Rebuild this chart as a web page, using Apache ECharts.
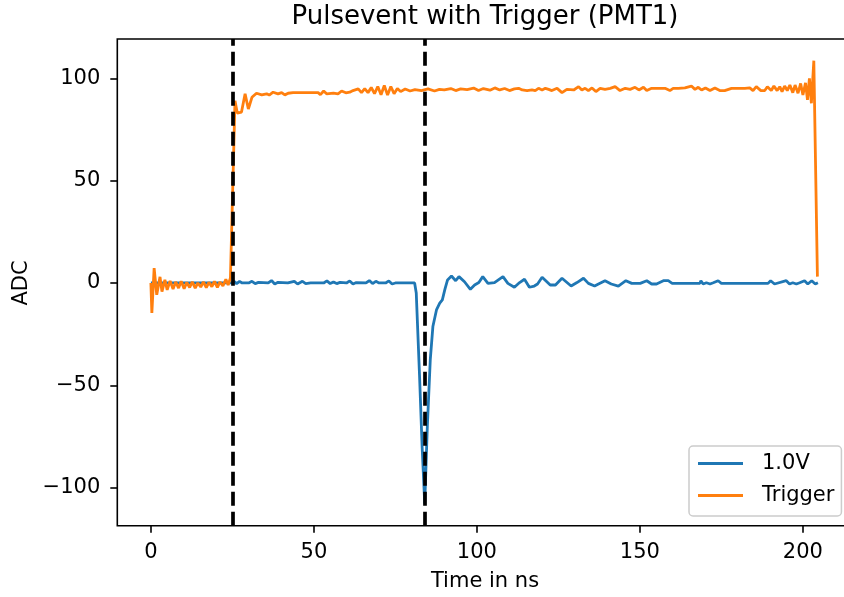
<!DOCTYPE html>
<html><head><meta charset="utf-8">
<script src="https://cdn.jsdelivr.net/npm/echarts@6/dist/echarts.min.js"></script>
<style>html,body{margin:0;padding:0;background:#fff}#c{width:844px;height:597px}</style>
</head><body><div id="c"></div>
<script>
// ---- data ----
const titleText = 'Pulsevent with Trigger (PMT1)';
const xName = 'Time in ns';
const yName = 'ADC';
const xTicks = [0, 50, 100, 150, 200];
const yTicks = [-100, -50, 0, 50, 100];
const triggerLines = [25.2, 84.0];

const pmtName = '1.0V';
const pmtT = [0,24.8,25.5,26.3,27.2,28.0,30.0,31.0,32.0,33.0,36.0,37.0,38.0,39.0,42.0,44.0,45.0,46.5,47.5,49.0,53.0,54.0,55.0,56.0,57.0,58.0,60.0,61.0,62.0,63.0,66.0,67.0,68.0,69.0,70.0,72.0,73.0,74.0,75.0,80.9,81.4,82.4,83.2,84.0,84.8,85.7,86.5,87.6,88.6,89.4,90.2,91.0,92.2,93.5,94.5,96.2,98.0,99.3,100.6,101.8,103.4,105.4,108.0,109.5,111.5,113.1,114.6,116.1,117.6,118.6,120.0,122.5,124.1,126.1,128.9,130.7,132.7,134.2,136.1,137.3,139.3,141.2,143.4,145.7,147.5,150.1,152.1,153.6,155.1,157.2,158.7,159.9,168.4,168.7,169.4,170.4,171.5,172.5,174.0,175.0,189.3,190.1,191.3,194.9,195.9,196.9,198.0,199.0,200.5,201.5,202.7,203.8,204.6];
const pmtV = [0,0,0.8,-0.3,0.8,0,0,0.8,-0.3,0.3,0,1.2,-0.5,0.3,0,0.8,-0.5,0.8,-0.3,0,0,1.0,-0.3,0.5,-0.3,0.3,0,1.0,-0.5,0.2,0,1.2,-0.3,0.8,0,0,1.0,-0.5,0,0,-4.9,-45,-80,-107.8,-70,-37.5,-21.3,-13.2,-9.9,-8.3,-3.0,1.5,3.4,1.1,3.1,0.6,-3.1,-1.0,0.2,3.1,-0.2,0.2,3.1,-0.2,-2.1,0.2,1.8,-2.1,-1.5,-0.5,2.8,-1.0,-1.0,2.3,-1.5,0.2,2.3,-0.2,-1.5,-0.5,1.1,-0.5,-1.5,1.1,-0.2,-0.2,1.1,-0.5,-0.5,1.1,1.1,-0.2,-0.2,1.1,-0.5,0.1,-0.5,0.1,1.1,-0.2,-0.2,1.1,-0.5,1.1,-0.5,0.1,-0.5,0.1,1.1,-0.5,1.1,-0.5,0.1];

const trigName = 'Trigger';
const trigT = [0,0.3,1.0,1.8,2.8,3.4,4.3,5.0,5.9,6.8,7.6,8.5,9.3,10.2,11.0,11.9,12.7,13.6,14.4,15.3,16.1,17.0,17.8,18.7,19.5,20.4,21.2,22.1,23.0,23.7,24.4,25.8,26.5,27.8,28.9,29.9,31.0,32.4,34.0,35.5,36.3,37.5,39.0,40.1,41.1,42.1,43.6,51.3,52.0,53.0,53.9,56.0,57.4,58.5,59.8,61.0,62.0,63.6,64.6,65.6,66.6,67.6,68.6,69.6,70.6,71.6,72.6,73.6,74.6,75.6,76.6,78.0,79.5,81.0,83.0,85.0,87.0,88.5,90.0,92.0,93.5,95.0,97.0,99.0,100.5,102.0,104.0,105.5,107.0,108.5,110.0,111.5,112.8,113.9,115.4,116.9,117.9,118.9,120.0,121.0,122.0,123.0,124.6,126.1,127.6,129.7,131.2,132.2,133.2,134.2,135.3,136.5,137.8,139.3,140.9,142.4,143.9,145.5,147.0,148.5,149.7,151.1,152.1,153.6,155.7,157.7,159.2,160.2,161.8,163.8,165.8,166.9,167.9,168.9,170.1,171.5,173.0,174.5,176.0,178.1,180.1,182.2,183.7,184.7,185.7,187.1,188.3,189.1,190.3,191.1,192.1,192.9,193.6,194.4,195.2,196.0,196.9,197.6,198.5,199.3,200.0,200.8,201.4,202.0,202.6,203.35,204.45];
const trigV = [0,-14.6,7.3,-5.8,3.0,-4.2,1.5,-3.4,1.0,-3.0,0.5,-2.5,0.8,-2.8,0.3,-2.2,0.5,-2.5,0.0,-2.0,0.5,-2.3,0.3,-1.8,0.8,-2.2,0.5,-1.5,1.8,-1.0,2.5,89,83,83.5,92.4,85,90.7,92.7,91.9,92.4,91.8,93.2,92.4,93.0,91.9,92.7,93.0,93.0,92.0,93.8,92.4,92.8,92.4,93.8,92.9,93.2,94.0,94.8,93.0,95.0,93.0,95.5,92.5,96.0,92.0,96.5,91.8,96.0,92.5,95.0,93.5,94.8,93.8,94.5,94.0,94.8,93.8,94.6,94.3,95.0,94.0,94.8,94.5,95.2,94.0,95.0,94.2,95.3,94.3,95.0,94.0,94.8,95.1,94.3,94.0,94.3,94.0,95.1,94.3,95.1,94.6,94.0,95.1,93.0,94.6,94.3,95.9,94.3,95.1,94.0,95.3,93.5,95.1,94.6,95.1,95.9,94.0,95.1,94.6,95.6,94.3,95.6,94.0,95.1,95.1,95.1,94.0,95.1,95.1,95.3,96.2,94.6,95.6,94.3,95.3,94.0,95.3,94.0,94.0,95.1,95.1,95.1,95.3,94.0,95.9,94.0,94.0,95.9,94.0,96.2,94.0,95.9,93.5,96.2,94.0,96.7,93.0,96.7,92.7,97.5,91.8,97.8,89.5,100.0,87.8,108.6,3.1];

// ---- chart ----
const FONT = 'DejaVu Sans';
const zip = (a, b) => a.map((t, i) => [t, b[i]]);
const chart = echarts.init(document.getElementById('c'), null, {renderer: 'canvas'});
chart.setOption({
  animation: false,
  backgroundColor: '#ffffff',
  textStyle: {fontFamily: FONT},
  grid: {left: 117.3, top: 39, width: 735, height: 486.7, show: true,
         borderColor: '#000', borderWidth: 1.6, backgroundColor: 'transparent',
         outerBoundsMode: 'none'},
  xAxis: {
    type: 'value', min: -10.3, max: 215.15,
    axisLine: {show: false, onZero: false},
    splitLine: {show: false},
    axisTick: {show: true, length: 7, inside: false, lineStyle: {color: '#000', width: 1.6}, customValues: xTicks},
    axisLabel: {customValues: xTicks, color: '#000', fontSize: 21, fontFamily: FONT, margin: 16},
  },
  yAxis: {
    type: 'value', min: -118.6, max: 119.2,
    axisLine: {show: false, onZero: false},
    splitLine: {show: false},
    axisTick: {show: true, length: 7, lineStyle: {color: '#000', width: 1.6}, customValues: yTicks},
    axisLabel: {customValues: yTicks, color: '#000', fontSize: 21, fontFamily: FONT, margin: 17,
      formatter: v => (v < 0 ? '\u2212' + Math.abs(v) : String(v))},
  },
  legend: {
    orient: 'vertical', left: 689, top: 446,
    data: [pmtName, trigName],
    icon: 'rect', itemWidth: 45, itemHeight: 3, itemGap: 7,
    padding: [5, 7, 8, 9],
    backgroundColor: 'rgba(255,255,255,0.8)', borderColor: '#cccccc', borderWidth: 1.5, borderRadius: 4,
    textStyle: {fontSize: 21, fontFamily: FONT, color: '#000', padding: [0, 0, 0, 14], lineHeight: 25},
    selectedMode: false
  },
  graphic: [
    {type: 'text', x: 485, y: 17, style: {text: titleText, font: '26px "DejaVu Sans"', fill: '#000', textAlign: 'center', textVerticalAlign: 'middle'}},
    {type: 'text', x: 485, y: 582, style: {text: xName, font: '21px "DejaVu Sans"', fill: '#000', textAlign: 'center', textVerticalAlign: 'middle'}},
    {type: 'text', x: 22, y: 283, rotation: Math.PI / 2, style: {text: yName, font: '21px "DejaVu Sans"', fill: '#000', textAlign: 'center', textVerticalAlign: 'middle'}}
  ],
  series: [
    {name: pmtName, type: 'line', data: zip(pmtT, pmtV), showSymbol: false, symbol: 'none', smooth: false,
     lineStyle: {color: '#1f77b4', width: 2.8}, itemStyle: {color: '#1f77b4'}, z: 2},
    {name: trigName, type: 'line', data: zip(trigT, trigV), showSymbol: false, symbol: 'none', smooth: false,
     lineStyle: {color: '#ff7f0e', width: 2.8}, itemStyle: {color: '#ff7f0e'}, z: 3},
    {name: 'vlines', type: 'line', data: [], z: 4,
     markLine: {silent: true, symbol: ['none', 'none'], animation: false,
       label: {show: false},
       lineStyle: {color: '#000', width: 3.7, type: [14, 6]},
       emphasis: {disabled: true},
       data: triggerLines.map(v => ({xAxis: v}))}}
  ]
});
</script>
</body></html>
